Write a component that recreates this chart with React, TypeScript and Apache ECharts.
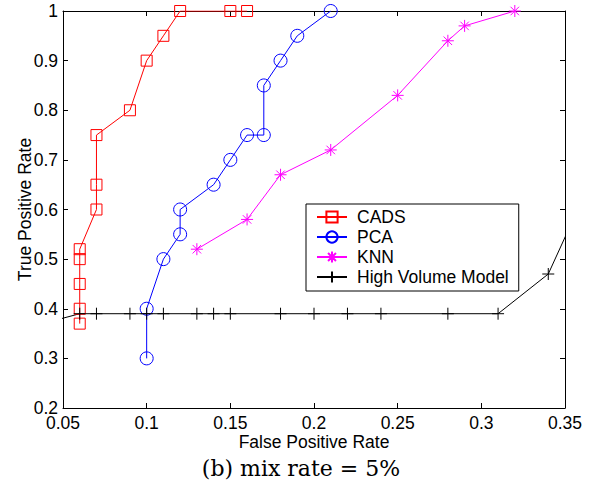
import React, { useEffect, useRef } from "react";
import * as echarts from "echarts";

// ---- data ----
const cadsX = [0.06, 0.06, 0.06, 0.06, 0.06, 0.07, 0.07, 0.07, 0.09, 0.10, 0.11, 0.12, 0.15, 0.16];
const cadsY = [0.37, 0.40, 0.45, 0.50, 0.52, 0.60, 0.65, 0.75, 0.80, 0.90, 0.95, 1.0, 1.0, 1.0];

const pcaX = [0.10, 0.10, 0.11, 0.12, 0.12, 0.14, 0.15, 0.16, 0.17, 0.17, 0.18, 0.19, 0.21];
const pcaY = [0.30, 0.40, 0.50, 0.55, 0.60, 0.65, 0.70, 0.75, 0.75, 0.85, 0.90, 0.95, 1.0];

const knnX = [0.13, 0.16, 0.18, 0.21, 0.25, 0.28, 0.29, 0.32];
const knnY = [0.52, 0.58, 0.67, 0.72, 0.83, 0.94, 0.97, 1.0];

const hvmX = [0.04, 0.06, 0.07, 0.09, 0.10, 0.11, 0.13, 0.14, 0.15, 0.18, 0.20, 0.22, 0.24, 0.28, 0.31, 0.34, 0.36];
const hvmY = [0.372, 0.39, 0.39, 0.39, 0.39, 0.39, 0.39, 0.39, 0.39, 0.39, 0.39, 0.39, 0.39, 0.39, 0.39, 0.47, 0.618];

const seriesNames = ["CADS", "PCA", "KNN", "High Volume Model"];
const xTickLabels = ["0.05", "0.1", "0.15", "0.2", "0.25", "0.3", "0.35"];
const yTickLabels = ["0.2", "0.3", "0.4", "0.5", "0.6", "0.7", "0.8", "0.9", "1"];
const xTitle = "False Positive Rate";
const yTitle = "True Positive Rate";
const caption = "(b) mix rate = 5%";

const SANS = "'Liberation Sans', Arial, Helvetica, sans-serif";
const SERIF = "'DejaVu Serif', 'Liberation Serif', serif";

const zip = (xs: number[], ys: number[]) => xs.map((x, i) => [x, ys[i]]);

const starPath =
  "path://M0,-10 L0,10 M-10,0 L10,0 M-7.07,-7.07 L7.07,7.07 M-7.07,7.07 L7.07,-7.07";
const plusPath = "path://M0,-10 L0,10 M-10,0 L10,0";

const X_MIN = 0.05, X_MAX = 0.35, X_INT = 0.05;
const Y_MIN = 0.2, Y_MAX = 1, Y_INT = 0.1;

const lab = (arr: string[], min: number, step: number) => (v: number) => {
  const i = Math.round((v - min) / step);
  return arr[i] ?? "";
};

export default function App() {
  const ref = useRef<HTMLDivElement>(null);
  useEffect(() => {
    if (!ref.current) return;
    const chart = echarts.init(ref.current, undefined, { renderer: "svg" });
    const axisLine = { show: true, lineStyle: { color: "#000", width: 1 } };
    const tick = { show: true, inside: true, length: 5, lineStyle: { color: "#000", width: 1 } };
    const mkSeries = (name: string, data: number[][], color: string, symbol: string, size: number) => ({
      name,
      type: "line",
      data,
      symbol,
      symbolSize: size,
      showAllSymbol: true,
      clip: true,
      lineStyle: { color, width: 1 },
      itemStyle: { color: "none", borderColor: color, borderWidth: 1 },
      emphasis: { disabled: true },
      z: 3,
    });
    chart.setOption({
      animation: false,
      backgroundColor: "#fff",
      textStyle: { fontFamily: SANS },
      grid: { left: 63, right: 41, top: 11, bottom: 78 },
      xAxis: [
        {
          type: "value",
          min: X_MIN,
          max: X_MAX,
          interval: X_INT,
          position: "bottom",
          axisLine,
          axisTick: tick,
          splitLine: { show: false },
          axisLabel: {
            color: "#000",
            fontSize: 17.5,
            fontFamily: SANS,
            margin: 6,
            formatter: lab(xTickLabels, X_MIN, X_INT),
          },
          name: xTitle,
          nameLocation: "middle",
          nameGap: 25,
          nameMoveOverlap: false,
          nameTextStyle: { color: "#000", fontSize: 17.5, fontFamily: SANS },
        },
        {
          type: "value",
          min: X_MIN,
          max: X_MAX,
          interval: X_INT,
          position: "top",
          axisLine,
          axisTick: tick,
          splitLine: { show: false },
          axisLabel: { show: false },
        },
      ],
      yAxis: [
        {
          type: "value",
          min: Y_MIN,
          max: Y_MAX,
          interval: Y_INT,
          position: "left",
          axisLine,
          axisTick: tick,
          splitLine: { show: false },
          axisLabel: {
            color: "#000",
            fontSize: 17.5,
            fontFamily: SANS,
            margin: 5,
            formatter: lab(yTickLabels, Y_MIN, Y_INT),
          },
          name: yTitle,
          nameLocation: "middle",
          nameGap: 29,
          nameMoveOverlap: false,
          nameTextStyle: { color: "#000", fontSize: 17.5, fontFamily: SANS },
        },
        {
          type: "value",
          min: Y_MIN,
          max: Y_MAX,
          interval: Y_INT,
          position: "right",
          axisLine,
          axisTick: tick,
          splitLine: { show: false },
          axisLabel: { show: false },
        },
      ],
      legend: {
        data: seriesNames,
        orient: "vertical",
        left: 306,
        top: 204,
        padding: [3, 10, 4, 10],
        itemGap: 0,
        itemWidth: 30,
        itemHeight: 14,
        borderColor: "#000",
        borderWidth: 1,
        backgroundColor: "#fff",
        textStyle: {
          color: "#000",
          fontSize: 17.5,
          fontFamily: SANS,
          lineHeight: 20,
          padding: [0, 0, 0, 5],
        },
        selectedMode: false,
      },
      series: [
        mkSeries(seriesNames[0], zip(cadsX, cadsY), "#ff0000", "rect", 11),
        mkSeries(seriesNames[1], zip(pcaX, pcaY), "#0000ff", "circle", 13),
        mkSeries(seriesNames[2], zip(knnX, knnY), "#ff00ff", starPath, 12),
        mkSeries(seriesNames[3], zip(hvmX, hvmY), "#000000", plusPath, 12),
      ],
      graphic: [
        {
          type: "text",
          style: {
            text: caption,
            x: 301,
            y: 468,
            align: "center",
            verticalAlign: "middle",
            fontSize: 22,
            fontFamily: SERIF,
            fill: "#000",
          },
        },
      ],
    });
    return () => chart.dispose();
  }, []);
  return (
    <div
      ref={ref}
      style={{ width: 606, height: 486, position: "fixed", left: 0, top: 0 }}
    />
  );
}
